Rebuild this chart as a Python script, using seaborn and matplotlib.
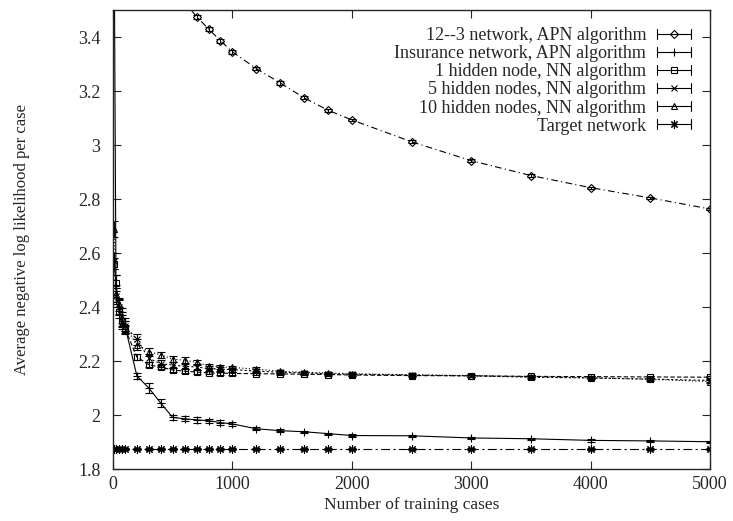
import matplotlib
matplotlib.use("Agg")
import matplotlib.pyplot as plt
import seaborn as sns
import pandas as pd
from matplotlib.lines import Line2D
from matplotlib.legend_handler import HandlerBase

# training set sizes
n_cases = [10, 25, 50, 75, 100, 200, 300, 400, 500, 600, 700, 800, 900, 1000,
           1200, 1400, 1600, 1800, 2000, 2500, 3000, 3500, 4000, 4500, 5000]

apn_123 = [8.2, 6.9, 5.9, 5.3, 4.95, 4.25, 3.92, 3.72, 3.61, 3.53, 3.475, 3.430, 3.386, 3.345,
           3.283, 3.230, 3.175, 3.129, 3.093, 3.012, 2.942, 2.887, 2.842, 2.804, 2.763]
err_123 = [0.2, 0.12, 0.08, 0.06, 0.05, 0.03, 0.02, 0.015, 0.012, 0.01, 0.008, 0.008, 0.007, 0.007,
           0.006, 0.006, 0.006, 0.005, 0.005, 0.005, 0.005, 0.004, 0.004, 0.004, 0.004]

apn_ins = [3.75, 2.47, 2.40, 2.36, 2.33, 2.145, 2.100, 2.044, 1.991, 1.986, 1.982, 1.979, 1.972, 1.967,
           1.949, 1.942, 1.938, 1.931, 1.924, 1.923, 1.915, 1.912, 1.906, 1.904, 1.901]
err_ins = [0.15, 0.05, 0.03, 0.035, 0.03, 0.012, 0.018, 0.015, 0.008, 0.009, 0.01, 0.008, 0.01, 0.006,
           0.005, 0.005, 0.004, 0.004, 0.004, 0.004, 0.005, 0.004, 0.005, 0.004, 0.004]

nn_1 = [2.56, 2.49, 2.38, 2.35, 2.32, 2.215, 2.186, 2.177, 2.167, 2.162, 2.159, 2.156, 2.155, 2.154,
        2.153, 2.152, 2.151, 2.150, 2.148, 2.146, 2.145, 2.143, 2.142, 2.141, 2.140]
err_1 = [0.02, 0.03, 0.02, 0.02, 0.015, 0.012, 0.01, 0.008, 0.008, 0.007, 0.006, 0.006, 0.005, 0.005,
         0.005, 0.004, 0.004, 0.004, 0.004, 0.004, 0.004, 0.004, 0.004, 0.004, 0.004]

nn_5 = [2.57, 2.44, 2.40, 2.34, 2.33, 2.28, 2.21, 2.19, 2.185, 2.18, 2.178, 2.172, 2.170, 2.168,
        2.163, 2.158, 2.156, 2.153, 2.151, 2.148, 2.145, 2.140, 2.137, 2.133, 2.128]
err_5 = [0.03, 0.03, 0.025, 0.02, 0.02, 0.02, 0.015, 0.012, 0.01, 0.01, 0.01, 0.008, 0.008, 0.007,
         0.006, 0.006, 0.005, 0.005, 0.005, 0.005, 0.005, 0.005, 0.005, 0.005, 0.005]

nn_10 = [2.69, 2.45, 2.41, 2.36, 2.33, 2.26, 2.235, 2.223, 2.207, 2.203, 2.195, 2.182, 2.179, 2.176,
         2.170, 2.162, 2.158, 2.156, 2.153, 2.149, 2.146, 2.142, 2.138, 2.132, 2.124]
err_10 = [0.03, 0.03, 0.025, 0.02, 0.02, 0.02, 0.015, 0.012, 0.01, 0.01, 0.01, 0.008, 0.008, 0.007,
          0.006, 0.006, 0.005, 0.005, 0.005, 0.005, 0.005, 0.005, 0.005, 0.005, 0.005]

target_net = [1.875, 1.875, 1.875, 1.875, 1.875, 1.875, 1.875, 1.875, 1.875, 1.875, 1.875, 1.875, 1.875,
              1.875, 1.875, 1.875, 1.875, 1.875, 1.875, 1.875, 1.875, 1.875, 1.875, 1.875, 1.875]
err_target = [0.003, 0.003, 0.003, 0.003, 0.003, 0.003, 0.003, 0.003, 0.003, 0.003, 0.003, 0.003, 0.003,
              0.003, 0.003, 0.003, 0.003, 0.003, 0.003, 0.003, 0.003, 0.003, 0.003, 0.003, 0.003]

labels = ["12--3 network, APN algorithm", "Insurance network, APN algorithm",
          "1 hidden node, NN algorithm", "5 hidden nodes, NN algorithm",
          "10 hidden nodes, NN algorithm", "Target network"]

x_ticks = [0, 1000, 2000, 3000, 4000, 5000]
y_ticks = [1.8, 2.0, 2.2, 2.4, 2.6, 2.8, 3.0, 3.2, 3.4]


class ErrbarHandler(HandlerBase):
    # gnuplot style key sample: |--marker--|
    def create_artists(self, legend, orig_handle, xdescent, ydescent, width, height, fontsize, trans):
        y = height / 2 - ydescent
        x0, x1 = -xdescent, width - xdescent
        h = 3.5
        arts = [Line2D([x0, x1], [y, y], color="k", lw=0.8),
                Line2D([x0, x0], [y - h, y + h], color="k", lw=0.8),
                Line2D([x1, x1], [y - h, y + h], color="k", lw=0.8),
                Line2D([(x0 + x1) / 2], [y], marker=orig_handle.get_marker(), ms=orig_handle.get_markersize(),
                       mfc="none", mec="k", mew=0.8, ls="none")]
        for a in arts:
            a.set_transform(trans)
        return arts


sns.set_style("ticks")
plt.rcParams["font.family"] = ["Liberation Serif", "DejaVu Serif"]
plt.rcParams["xtick.direction"] = "in"
plt.rcParams["ytick.direction"] = "in"

fig = plt.figure(figsize=(7.33, 5.21), dpi=100)
ax = fig.add_axes([113 / 733, 1 - 469 / 521, (710 - 113) / 733, (469 - 10) / 521])

star = (8, 2, 0)
series = [
    (apn_123, err_123, "D", (6, 3, 1, 3), 4),
    (apn_ins, err_ins, "+", "", 6),
    (nn_1, err_1, "s", (4, 2), 5),
    (nn_5, err_5, "x", (2, 2), 5),
    (nn_10, err_10, "^", (1, 2), 5),
    (target_net, err_target, star, (8, 3, 2, 3), 6),
]

handles = []
for (vals, errs, mk, dash, ms), lab in zip(series, labels):
    df = pd.DataFrame({"cases": n_cases, "nll": vals})
    sns.lineplot(data=df, x="cases", y="nll", ax=ax, color="k", lw=0.8,
                 dashes=False, marker=mk, markersize=ms, mfc="none", mec="k", mew=0.8)
    ln = ax.lines[-1]
    if dash:
        ln.set_dashes(dash)
    ax.errorbar(n_cases, vals, yerr=errs, fmt="none", ecolor="k", elinewidth=0.8,
                capsize=3, capthick=0.8)
    handles.append(Line2D([], [], marker=mk, markersize=ms, color="k"))

ax.set_xlim(0, 5000)
ax.set_ylim(1.8, 3.5)
ax.set_xticks(x_ticks)
ax.set_xticklabels([str(t) for t in x_ticks])
ax.set_yticks(y_ticks)
ax.set_yticklabels(["%g" % t for t in y_ticks])
ax.tick_params(top=True, right=True, length=6, width=0.8, labelsize=13)
ax.tick_params(axis="y", pad=9)
ax.tick_params(axis="x", pad=5)
for s in ax.spines.values():
    s.set_linewidth(1.0)
    s.set_visible(True)

ax.set_xlabel("Number of training cases", fontsize=12.5, labelpad=3)
ax.set_ylabel("Average negative log likelihood per case", fontsize=12, labelpad=35)

ax.legend(handles, labels, handler_map={Line2D: ErrbarHandler()}, loc="upper right",
          bbox_to_anchor=(0.99, 0.99), frameon=False, markerfirst=False, fontsize=13,
          handlelength=1.9, handletextpad=0.6, labelspacing=0.06, borderaxespad=0.3)

fig.savefig("out.png", dpi=100)
